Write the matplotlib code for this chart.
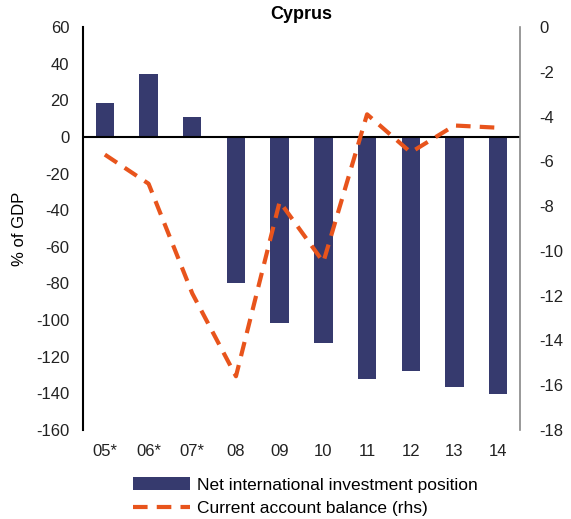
import matplotlib.pyplot as plt
import numpy as np

plt.rcParams['font.family'] = ['Liberation Sans', 'DejaVu Sans']
plt.rcParams['axes.unicode_minus'] = False

years = ['05*', '06*', '07*', '08', '09', '10', '11', '12', '13', '14']
niip = [18.5, 34.5, 10.8, -80, -101.5, -112.5, -132, -128, -136.5, -140.5]
current_account = [-5.7, -7.0, -11.9, -15.6, -7.8, -10.5, -3.9, -5.6, -4.4, -4.5]

x = np.arange(len(years))

fig = plt.figure(figsize=(5.71, 5.19), dpi=100)
ax = fig.add_axes([0.1454, 0.1715, 0.7653, 0.7765])
ax2 = ax.twinx()

bars = ax.bar(x, niip, width=0.42, color='#363a6e', label='Net international investment position', zorder=2)
ax.axhline(0, color='black', lw=1.5, zorder=3)
line, = ax2.plot(x, current_account, color='#e8541c', lw=3, dashes=(3.5, 2.2),
                 label='Current account balance (rhs)', zorder=4)

ax.set_zorder(ax2.get_zorder() - 1)
ax2.patch.set_visible(False)

ax.set_xlim(-0.5, 9.5)
ax.set_ylim(-160, 60)
ax.set_yticks(np.arange(-160, 61, 20))
ax2.set_ylim(-18, 0)
ax2.set_yticks(np.arange(-18, 1, 2))
ax.set_xticks(x)
ax.set_xticklabels(years)

for a in (ax, ax2):
    a.tick_params(length=0, labelsize=12, colors='#222222')
    a.spines['top'].set_visible(False)
    a.spines['bottom'].set_visible(False)
ax.tick_params(axis='x', pad=10)
ax.tick_params(axis='y', pad=10)
ax2.tick_params(axis='y', pad=14)
ax.spines['left'].set_color('black')
ax.spines['left'].set_linewidth(1.5)
ax.spines['right'].set_visible(False)
ax2.spines['left'].set_visible(False)
ax2.spines['right'].set_color('#888888')
ax2.spines['right'].set_linewidth(1.2)

ax.set_ylabel('% of GDP', fontsize=12, labelpad=6)
ax.set_title('Cyprus', fontsize=13, fontweight='bold', pad=6)

fig.legend([bars, line], [bars.get_label(), line.get_label()],
           loc='lower center', bbox_to_anchor=(0.535, -0.025), frameon=False,
           fontsize=12.5, handlelength=3.3, labelspacing=0.5, handletextpad=0.4)

fig.savefig('out.png', dpi=100)
